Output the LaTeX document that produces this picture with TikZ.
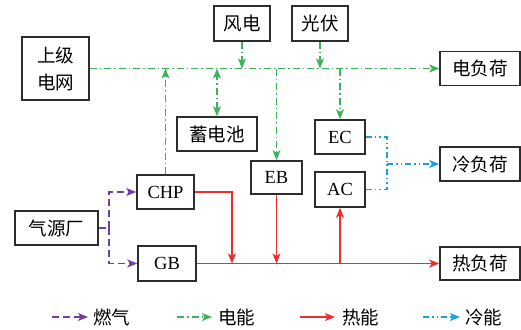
\documentclass[tikz,border=0pt]{standalone}
\usepackage{fontspec}
\setmainfont{Liberation Serif}
\newfontfamily\cjk{Noto Sans CJK SC}
\usetikzlibrary{arrows.meta}
\definecolor{cgreen}{RGB}{60,178,90}
\definecolor{cpurple}{RGB}{110,65,160}
\definecolor{cred}{RGB}{238,45,45}
\definecolor{cblue}{RGB}{30,160,220}
\definecolor{cbox}{RGB}{45,45,45}
\tikzset{
  x=1pt,y=-1pt,
  box/.style={draw=cbox,line width=1.5pt,inner sep=0pt,align=center,font=\fontsize{18.5}{27}\selectfont},
  tip/.style={-{Stealth[length=10pt,width=8pt,inset=2.5pt]}},
  both/.style={{Stealth[length=10pt,width=8pt,inset=2.5pt]}-{Stealth[length=10pt,width=8pt,inset=2.5pt]}},
  pw/.style={draw=cgreen,line width=1.4pt,dash pattern=on 7pt off 3pt on 1.5pt off 3pt},
  gs/.style={draw=cpurple,line width=1.4pt,dash pattern=on 7pt off 4pt},
  ht/.style={draw=cred,line width=1.4pt},
  cl/.style={draw=cblue,line width=1.4pt,dash pattern=on 6pt off 3pt on 1.5pt off 3pt on 1.5pt off 3pt},
  lg/.style={anchor=west,inner sep=0pt,font=\fontsize{18.5}{20}\selectfont\cjk}
}
\begin{document}
\begin{tikzpicture}
\useasboundingbox (0,0) rectangle (521,329);
% boxes
\node[box,minimum width=67pt,minimum height=63pt] (grid) at (55.5,68.5) {\cjk 上级\\\cjk 电网};
\node[box,minimum width=56pt,minimum height=35pt] (wind) at (242,23.5) {\cjk 风电};
\node[box,minimum width=56pt,minimum height=35pt] (pv) at (320,23.5) {\cjk 光伏};
\node[box,minimum width=80pt,minimum height=34pt] (eload) at (480,68.5) {\cjk 电负荷};
\node[box,minimum width=80pt,minimum height=34pt] (bat) at (217,134) {\cjk 蓄电池};
\node[box,minimum width=50pt,minimum height=34pt] (ec) at (340,137) {EC};
\node[box,minimum width=80pt,minimum height=34pt] (cload) at (480,164) {\cjk 冷负荷};
\node[box,minimum width=51pt,minimum height=33pt] (eb) at (276.5,177.5) {EB};
\node[box,minimum width=50pt,minimum height=35pt] (ac) at (340,189.5) {AC};
\node[box,minimum width=57pt,minimum height=34pt] (chp) at (165.5,192) {CHP};
\node[box,minimum width=83pt,minimum height=34pt] (gas) at (56.5,228) {\cjk 气源厂};
\node[box,minimum width=58pt,minimum height=35pt] (gb) at (167,263.5) {GB};
\node[box,minimum width=80pt,minimum height=33pt] (hload) at (480,263.5) {\cjk 热负荷};
% power bus
\draw[pw,tip] (grid.east) -- (eload.west);
\draw[pw,tip] (wind.south) -- (wind.south |- grid.east);
\draw[pw,tip] (pv.south) -- (pv.south |- grid.east);
\draw[pw,both] (bat.north) -- (bat.north |- grid.east);
\draw[pw,tip] (chp.north) -- (chp.north |- grid.east);
\draw[pw,tip] (eb.north |- grid.east) -- (eb.north);
\draw[pw,tip] (ec.north |- grid.east) -- (ec.north);
% cooling
\coordinate (cj) at (387,164);
\draw[cl] (ec.east) -| (cj);
\draw[cl] (ac.east) -| (cj);
\draw[cl,tip] (cj) -- (cload.west);
% gas
\coordinate (gj) at (109,228);
\draw[gs] (gas.east) -- (gj);
\draw[gs,tip] (gj) |- (chp.west);
\draw[gs,tip] (gj) |- (gb.west);
% heat
\coordinate (hj) at (232,263.5);
\draw[ht,tip] (chp.east) -| (hj);
\draw[ht,tip] (gb.east) -- (hload.west);
\draw[ht,tip] (eb.south) -- (eb.south |- gb.east);
\draw[ht,tip] (ac.south |- gb.east) -- (ac.south);
% legend
\coordinate (l1a) at (52,317); \coordinate (l1b) at (88,317);
\draw[gs,tip] (l1a) -- (l1b);
\node[lg] (t1) at (93,317) {燃气};
\coordinate (l2a) at (177,317); \coordinate (l2b) at (212,317);
\draw[pw,tip] (l2a) -- (l2b);
\node[lg] (t2) at (218,317) {电能};
\coordinate (l3a) at (300,317); \coordinate (l3b) at (335,317);
\draw[ht,tip] (l3a) -- (l3b);
\node[lg] (t3) at (342,317) {热能};
\coordinate (l4a) at (423,317); \coordinate (l4b) at (460,317);
\draw[cl,tip] (l4a) -- (l4b);
\node[lg] (t4) at (465,317) {冷能};
\end{tikzpicture}
\end{document}
